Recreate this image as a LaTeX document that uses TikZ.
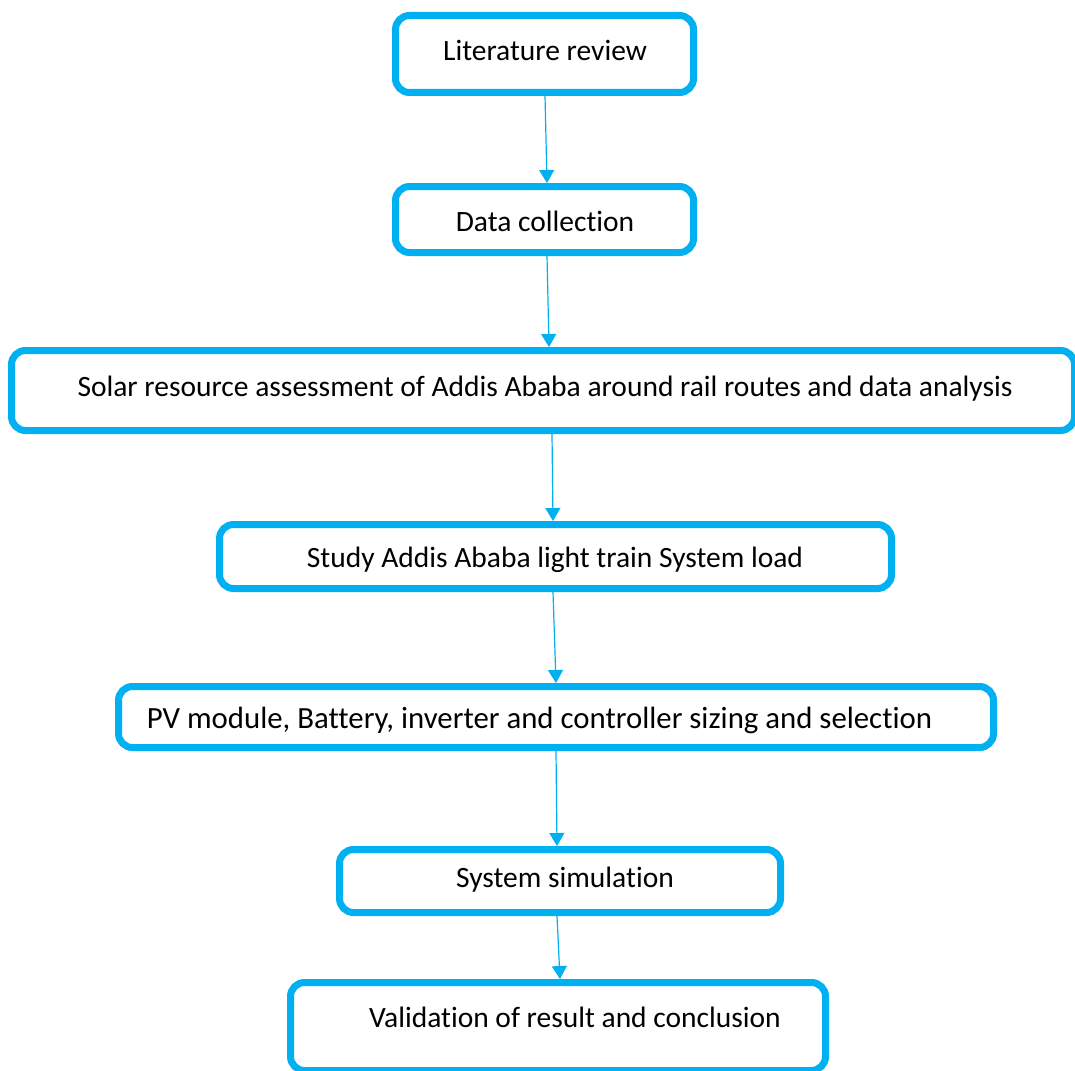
\documentclass[tikz,border=0pt]{standalone}
\usepackage{fontspec}
\setmainfont[Ligatures=NoCommon]{Carlito}
\usetikzlibrary{arrows.meta}
\definecolor{cyanb}{HTML}{00B0F0}
\tikzset{
  stepbox/.style={draw=cyanb, line width=7pt, rounded corners=14pt, fill=white, inner sep=0pt},
  lbl/.style={font=\fontsize{29.5}{34}\selectfont, inner sep=0pt, anchor=center},
  flow/.style={draw=cyanb, line width=1.2pt, -{Triangle[width=15pt,length=13pt]}}
}
\begin{document}
\begin{tikzpicture}[x=1pt,y=-1pt]
\useasboundingbox[fill=white] (0,0) rectangle (1075,1070);
\node[stepbox, minimum width=298pt, minimum height=77pt] (b1) at (544.5,54) {};
\node[stepbox, minimum width=298pt, minimum height=66pt] (b2) at (544.5,219.5) {};
\node[stepbox, minimum width=1063pt, minimum height=80pt] (b3) at (543,390.5) {};
\node[stepbox, minimum width=672pt, minimum height=64pt] (b4) at (555.5,556.5) {};
\node[stepbox, minimum width=875pt, minimum height=61pt] (b5) at (556,717) {};
\node[stepbox, minimum width=441pt, minimum height=63pt] (b6) at (560,881) {};
\node[stepbox, minimum width=535pt, minimum height=88pt] (b7) at (558,1026.5) {};

\node[lbl] (t1) at (545,50) {Literature review};
\node[lbl] (t2) at (545,221) {Data collection};
\node[lbl] (t3) at (545,389) {Solar resource assessment of Addis Ababa around rail routes and data analysis};
\node[lbl] (t4) at (555,560) {Study Addis Ababa light train System load};
\node[lbl, font=\fontsize{30.8}{35}\selectfont] (t5) at (539.5,720) {PV module, Battery, inverter and controller sizing and selection};
\node[lbl] (t6) at (565,880) {System simulation};
\node[lbl] (t7) at (575,1017) {Validation of result and conclusion};

\draw[flow] ([xshift=0.5pt]b1.south) -- ([xshift=2.5pt]b2.north);
\draw[flow] ([xshift=2.5pt]b2.south) -- ([xshift=6pt]b3.north);
\draw[flow] ([xshift=9pt]b3.south) -- ([xshift=-2.5pt]b4.north);
\draw[flow] ([xshift=-2.5pt]b4.south) -- ([xshift=0pt]b5.north);
\draw[flow] ([xshift=0pt]b5.south) -- ([xshift=-3pt]b6.north);
\draw[flow] ([xshift=-3pt]b6.south) -- ([xshift=2pt]b7.north);
\end{tikzpicture}
\end{document}
